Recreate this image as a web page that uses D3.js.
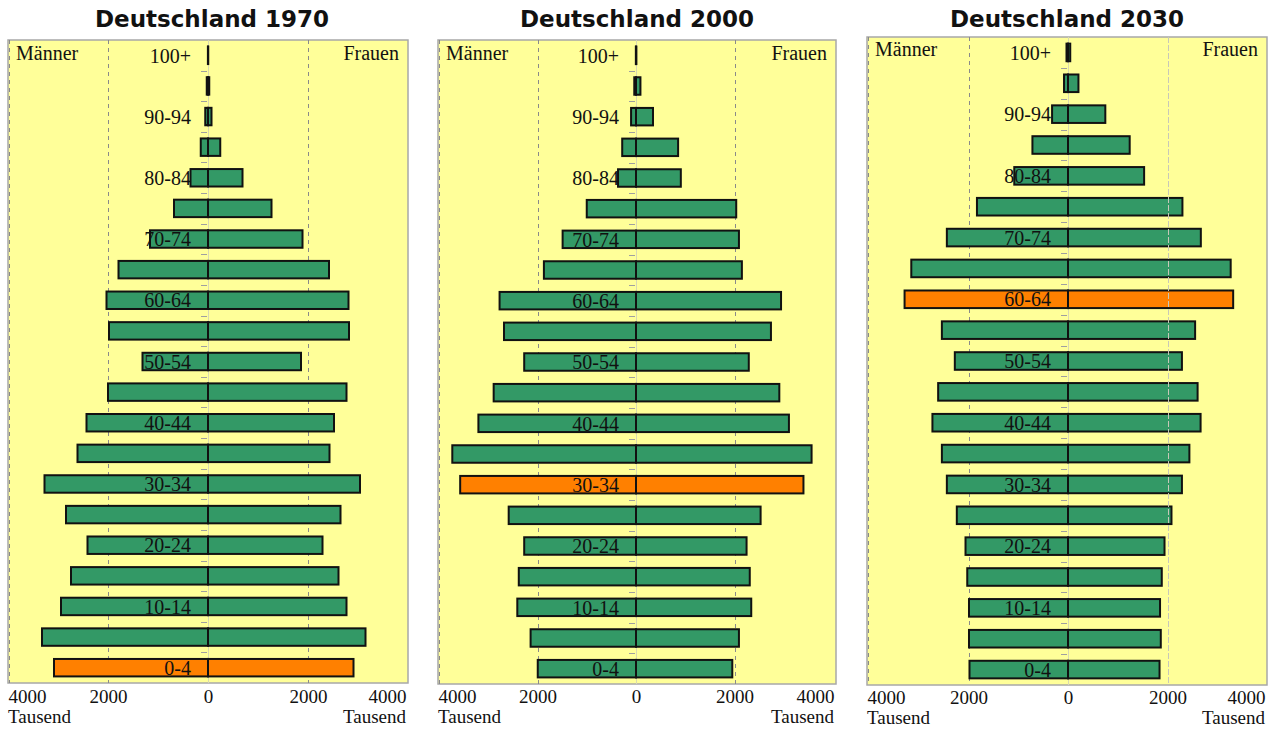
<!DOCTYPE html>
<html>
<head>
<meta charset="utf-8">
<script src="https://cdn.jsdelivr.net/npm/d3@7"></script>
<style>
  html, body { margin: 0; padding: 0; background: #ffffff; }
  svg { display: block; }
</style>
</head>
<body>
<svg id="chart" width="1277" height="729"></svg>
<script>
// ---------------- DATA ----------------
// age groups listed from youngest (bottom) to oldest (top)
const ageGroups = ["0-4","5-9","10-14","15-19","20-24","25-29","30-34","35-39","40-44","45-49",
                   "50-54","55-59","60-64","65-69","70-74","75-79","80-84","85-89","90-94","95-99","100+"];
const labeledAges = ["0-4","10-14","20-24","30-34","40-44","50-54","60-64","70-74","80-84","90-94","100+"];

const years = ["1970", "2000", "2030"];
const titles = ["Deutschland 1970", "Deutschland 2000", "Deutschland 2030"];

// population in thousands (Tausend)
const male1970   = [3080,3320,2940,2740,2410,2840,3270,2610,2430,2000,1310,1980,2030,1790,1160,680,350,145,55,25,2];
const female1970 = [2910,3150,2770,2610,2290,2650,3040,2430,2520,2770,1860,2820,2810,2420,1890,1270,690,245,70,25,5];

const male2000   = [1995,2140,2410,2380,2270,2585,3570,3730,3200,2890,2270,2680,2770,1870,1490,1000,365,280,100,35,3];
const female2000 = [1955,2090,2340,2310,2245,2530,3400,3565,3105,2910,2290,2740,2945,2150,2090,2035,910,855,345,90,8];

const male2030   = [1980,1990,1990,2025,2060,2235,2435,2535,2725,2610,2275,2535,3285,3150,2435,1830,1080,715,320,80,30];
const female2030 = [1840,1865,1850,1885,1940,2080,2290,2440,2665,2605,2290,2555,3320,3270,2670,2300,1530,1240,750,210,45];

const highlightAge = ["0-4", "30-34", "60-64"]; // birth cohort of 1970

const tickValues = [-4000, -2000, 0, 2000, 4000];
const tickLabels = ["4000", "2000", "0", "2000", "4000"];
const unitLabel = "Tausend";
const maleLabel = "Männer";
const femaleLabel = "Frauen";

// ---------------- LAYOUT ----------------
const panels = [
  { male: male1970, female: female1970, left: 8,   right: 408,  top: 40, bottom: 683, cx: 208,  half: 200, titleX: 212,  tickY: 703, unitY: 723, lblY: 60, fadedRightGrid: false },
  { male: male2000, female: female2000, left: 438, right: 836,  top: 40, bottom: 684, cx: 636,  half: 197, titleX: 637,  tickY: 703, unitY: 723, lblY: 60, fadedRightGrid: false },
  { male: male2030, female: female2030, left: 867, right: 1267, top: 37, bottom: 685, cx: 1068, half: 199, titleX: 1067, tickY: 704, unitY: 724, lblY: 56, fadedRightGrid: true }
];

const COLORS = { bg: "#ffff99", bar: "#339966", hi: "#ff8000", grid: "#8a8a8a", border: "#a8a8a8" };
const serif = "'Liberation Serif', 'Times New Roman', serif";

const svg = d3.select("#chart");

panels.forEach((p, i) => {
  const g = svg.append("g");
  const x = d3.scaleLinear().domain([-4000, 4000]).range([p.cx - p.half, p.cx + p.half]);
  const y = d3.scaleBand()
    .domain(ageGroups.slice().reverse())
    .range([p.top, p.bottom])
    .paddingInner(0.43)
    .paddingOuter(0.215);

  // background
  g.append("rect")
    .attr("x", p.left).attr("y", p.top)
    .attr("width", p.right - p.left).attr("height", p.bottom - p.top)
    .attr("fill", COLORS.bg)
    .attr("stroke", COLORS.border).attr("stroke-width", 1.5);

  // left edge dashed
  g.append("line")
    .attr("x1", p.left + 1.5).attr("x2", p.left + 1.5)
    .attr("y1", p.top).attr("y2", p.bottom)
    .attr("stroke", COLORS.grid).attr("stroke-width", 1)
    .attr("stroke-dasharray", "4,4");

  // faint center line
  g.append("line")
    .attr("x1", Math.round(x(0)) + 0.5).attr("x2", Math.round(x(0)) + 0.5)
    .attr("y1", p.top).attr("y2", p.bottom)
    .attr("stroke", "#d9d9b0").attr("stroke-width", 1);

  // dashed gridlines at +/-2000
  [-2000, 2000].forEach(v => {
    if (v === 2000 && p.fadedRightGrid) return;
    const xx = Math.round(x(v)) + 0.5;
    g.append("line")
      .attr("x1", xx).attr("x2", xx)
      .attr("y1", p.top).attr("y2", p.bottom)
      .attr("stroke", COLORS.grid).attr("stroke-width", 1)
      .attr("stroke-dasharray", "4,4");
  });

  // small ticks at band boundaries (left of center)
  const step = y.step();
  d3.range(1, ageGroups.length).forEach(k => {
    const yy = Math.round(p.top + k * step) + 0.5;
    g.append("line")
      .attr("x1", x(0) - 7).attr("x2", x(0) - 1)
      .attr("y1", yy).attr("y2", yy)
      .attr("stroke", "#a0a0a0").attr("stroke-width", 1);
  });

  const rows = ageGroups.map((a, k) => ({ age: a, m: p.male[k], f: p.female[k] }));
  const fillFor = d => d.age === highlightAge[i] ? COLORS.hi : COLORS.bar;

  // male bars
  g.selectAll("rect.m").data(rows).join("rect")
    .attr("class", "m")
    .attr("x", d => x(-d.m))
    .attr("y", d => y(d.age))
    .attr("width", d => x(0) - x(-d.m))
    .attr("height", y.bandwidth())
    .attr("fill", fillFor)
    .attr("stroke", "#111").attr("stroke-width", 2);

  // female bars
  g.selectAll("rect.f").data(rows).join("rect")
    .attr("class", "f")
    .attr("x", x(0))
    .attr("y", d => y(d.age))
    .attr("width", d => x(d.f) - x(0))
    .attr("height", y.bandwidth())
    .attr("fill", fillFor)
    .attr("stroke", "#111").attr("stroke-width", 2);

  if (p.fadedRightGrid) {
    const xx = Math.round(x(2000)) + 0.5;
    g.append("line")
      .attr("x1", xx).attr("x2", xx)
      .attr("y1", p.top).attr("y2", p.bottom)
      .attr("stroke", "#c8c8b8").attr("stroke-width", 1)
      .attr("stroke-dasharray", "6,2");
  }

  // age labels
  g.selectAll("text.age").data(labeledAges).join("text")
    .attr("class", "age")
    .attr("x", x(0) - 17)
    .attr("y", d => y(d) + y.bandwidth() / 2)
    .attr("dy", "0.36em")
    .attr("text-anchor", "end")
    .attr("font-family", serif).attr("font-size", 20)
    .attr("fill", "#111")
    .text(d => d);

  // Männer / Frauen
  g.append("text")
    .attr("x", p.left + 8).attr("y", p.lblY)
    .attr("font-family", serif).attr("font-size", 20).attr("fill", "#111")
    .text(maleLabel);
  g.append("text")
    .attr("x", p.right - 9).attr("y", p.lblY)
    .attr("text-anchor", "end")
    .attr("font-family", serif).attr("font-size", 20).attr("fill", "#111")
    .text(femaleLabel);

  // x axis
  const axis = d3.axisBottom(x)
    .tickValues(tickValues)
    .tickSize(0)
    .tickFormat((d, k) => tickLabels[k]);
  const ax = g.append("g")
    .attr("transform", `translate(0,${p.tickY - 14})`)
    .call(axis);
  ax.select(".domain").remove();
  ax.selectAll("text")
    .attr("font-family", serif).attr("font-size", 19).attr("fill", "#111")
    .attr("dy", 0).attr("y", 14);
  ax.selectAll(".tick").each(function(d) {
    const t = d3.select(this);
    if (d === -4000) t.select("text").attr("text-anchor", "start").attr("x", p.left - x(-4000));
    if (d === 4000) t.select("text").attr("text-anchor", "end").attr("x", p.right - 2 - x(4000));
  });

  // unit labels
  g.append("text")
    .attr("x", p.left).attr("y", p.unitY)
    .attr("font-family", serif).attr("font-size", 19).attr("fill", "#111")
    .text(unitLabel);
  g.append("text")
    .attr("x", p.right - 2).attr("y", p.unitY)
    .attr("text-anchor", "end")
    .attr("font-family", serif).attr("font-size", 19).attr("fill", "#111")
    .text(unitLabel);

  // title
  svg.append("text")
    .attr("x", p.titleX).attr("y", 27)
    .attr("text-anchor", "middle")
    .attr("font-family", "'DejaVu Sans', Verdana, sans-serif")
    .attr("font-weight", "bold").attr("font-size", 23).attr("fill", "#111")
    .text(titles[i]);
});
</script>
</body>
</html>
